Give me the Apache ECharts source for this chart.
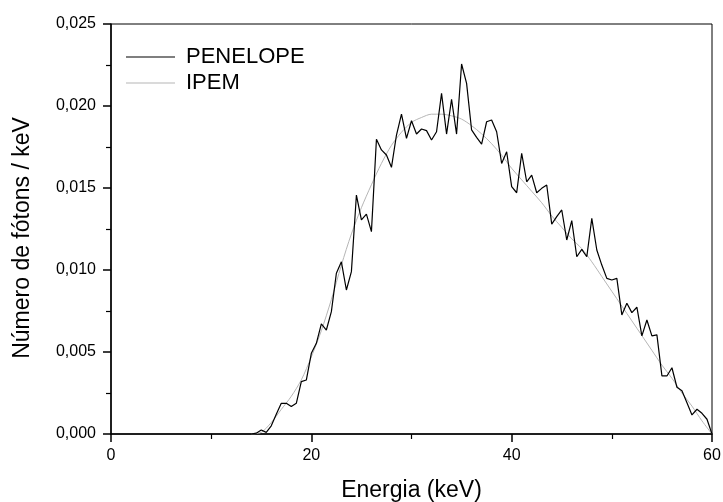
<!DOCTYPE html>
<html>
<head>
<meta charset="utf-8">
<script src="https://cdn.jsdelivr.net/npm/echarts@6/dist/echarts.min.js"></script>
<style>html,body{margin:0;padding:0;background:#fff;}#c{width:723px;height:502px;}</style>
</head>
<body>
<div id="c"></div>
<script>
const xTicks = [0, 20, 40, 60];
const yTicks = [0, 0.005, 0.010, 0.015, 0.020, 0.025];

const penEnergy = [14,14.5,15,15.5,16,16.5,17,17.5,18,18.5,19,19.5,20,20.5,21,21.5,22,22.5,23,23.5,24,24.5,25,25.5,26,26.5,27,27.5,28,28.5,29,29.5,30,30.5,31,31.5,32,32.5,33,33.5,34,34.5,35,35.5,36,36.5,37,37.5,38,38.5,39,39.5,40,40.5,41,41.5,42,42.5,43,43.5,44,44.5,45,45.5,46,46.5,47,47.5,48,48.5,49,49.5,50,50.5,51,51.5,52,52.5,53,53.5,54,54.5,55,55.5,56,56.5,57,57.5,58,58.5,59,59.5,60];
const penValues = [
  0, 0.00005, 0.00024, 0.0001, 0.0005, 0.0012, 0.00187, 0.00187, 0.00167, 0.00187,
  0.00319, 0.00329, 0.00492, 0.00553, 0.00671, 0.00634, 0.00746, 0.0098, 0.0105, 0.00878,
  0.0099, 0.01457, 0.01305, 0.01341, 0.01234, 0.01797, 0.01732, 0.01701, 0.01626, 0.01823,
  0.01951, 0.01803, 0.0191, 0.01829, 0.0186, 0.0185, 0.01793, 0.01843, 0.02077, 0.01829,
  0.02041, 0.01829, 0.02256, 0.02138, 0.01854, 0.01809, 0.01768, 0.01904, 0.01915, 0.01843,
  0.0165, 0.01721, 0.01508, 0.01471, 0.01711, 0.01538, 0.01579, 0.01471, 0.01498, 0.01518,
  0.0128, 0.01325, 0.01366, 0.01183, 0.01301, 0.01081, 0.01126, 0.01081, 0.01315, 0.01122,
  0.0103, 0.00949, 0.00939, 0.00949, 0.00726, 0.00797, 0.0074, 0.00773, 0.00598, 0.00695,
  0.00598, 0.00604, 0.00354, 0.00354, 0.00404, 0.00285, 0.00264, 0.00191, 0.00116, 0.00151,
  0.00126, 0.0009, 0
];

const ipemEnergy = [14,15,16,17,18,19,20,21,22,23,24,25,26,27,28,29,30,31,32,33,34,35,36,37,38,39,40,41,42,43,44,45,46,47,48,49,50,51,52,53,54,55,56,57,58,59,60];
const ipemValues = [
  0, 0.0001, 0.0007, 0.0015, 0.0023, 0.0033, 0.0047, 0.0063, 0.0082, 0.0103,
  0.0122, 0.0138, 0.0152, 0.0165, 0.0176, 0.0184, 0.0190, 0.0193, 0.0195, 0.0195,
  0.0194, 0.0192, 0.0188, 0.0183, 0.0177, 0.0170, 0.0162, 0.0155, 0.0148, 0.0141,
  0.0133, 0.0126, 0.0119, 0.0113, 0.0105, 0.0096, 0.0087, 0.0078, 0.0069, 0.0060,
  0.0051, 0.0042, 0.0034, 0.0025, 0.0017, 0.0008, 0
];

const FONT = '"Liberation Sans", Arial, sans-serif';
const chart = echarts.init(document.getElementById('c'), null, {renderer: 'canvas'});
chart.setOption({
  animation: false,
  backgroundColor: '#fff',
  textStyle: {fontFamily: FONT},
  grid: {left: 111, right: 11, top: 24, bottom: 68, show: true, borderColor: '#000', borderWidth: 1,
    containLabel: false, outerBoundsMode: 'none'},
  legend: {
    show: true, padding: 0,
    orient: 'vertical', left: 126, top: 46, icon: 'rect', itemWidth: 49, itemHeight: 1.2, itemGap: 4,
    textStyle: {fontFamily: FONT, fontSize: 22, color: '#000', padding: [0, 0, 0, 6]},
    data: [{name: 'PENELOPE'}, {name: 'IPEM'}]
  },
  xAxis: {
    type: 'value', min: xTicks[0], max: xTicks[xTicks.length - 1], interval: 20,
    name: 'Energia (keV)', nameLocation: 'middle', nameGap: 45,
    nameTextStyle: {fontFamily: FONT, fontSize: 23, color: '#000'},
    axisLine: {lineStyle: {color: '#000', width: 1.5}},
    axisTick: {show: true, inside: false, length: 8, lineStyle: {color: '#000', width: 1.5}},
    minorTick: {show: true, splitNumber: 2, length: 5, lineStyle: {color: '#000', width: 1.2}},
    splitLine: {show: false},
    axisLabel: {fontFamily: FONT, fontSize: 16, color: '#000', margin: 14}
  },
  yAxis: {
    type: 'value', min: yTicks[0], max: yTicks[yTicks.length - 1], interval: 0.005,
    name: 'Número de fótons / keV', nameLocation: 'middle', nameGap: 77, nameRotate: 90,
    nameTextStyle: {fontFamily: FONT, fontSize: 23, color: '#000', padding: [0, 18, 0, 0]},
    axisLine: {lineStyle: {color: '#000', width: 1.5}},
    axisTick: {show: true, inside: false, length: 8, lineStyle: {color: '#000', width: 1.5}},
    minorTick: {show: true, splitNumber: 2, length: 5, lineStyle: {color: '#000', width: 1.2}},
    splitLine: {show: false},
    axisLabel: {fontFamily: FONT, fontSize: 16, color: '#000', margin: 15,
      formatter: v => v.toFixed(3).replace('.', ',')}
  },
  series: [
    {name: 'PENELOPE', type: 'line', symbol: 'none', z: 3,
      data: penEnergy.map((e, i) => [e, penValues[i]]),
      lineStyle: {color: '#000', width: 1.2}, itemStyle: {color: '#000'}},
    {name: 'IPEM', type: 'line', symbol: 'none', smooth: 0.3, z: 2,
      data: ipemEnergy.map((e, i) => [e, ipemValues[i]]),
      lineStyle: {color: '#b5b5b5', width: 1}, itemStyle: {color: '#b5b5b5'}}
  ]
});
</script>
</body>
</html>
